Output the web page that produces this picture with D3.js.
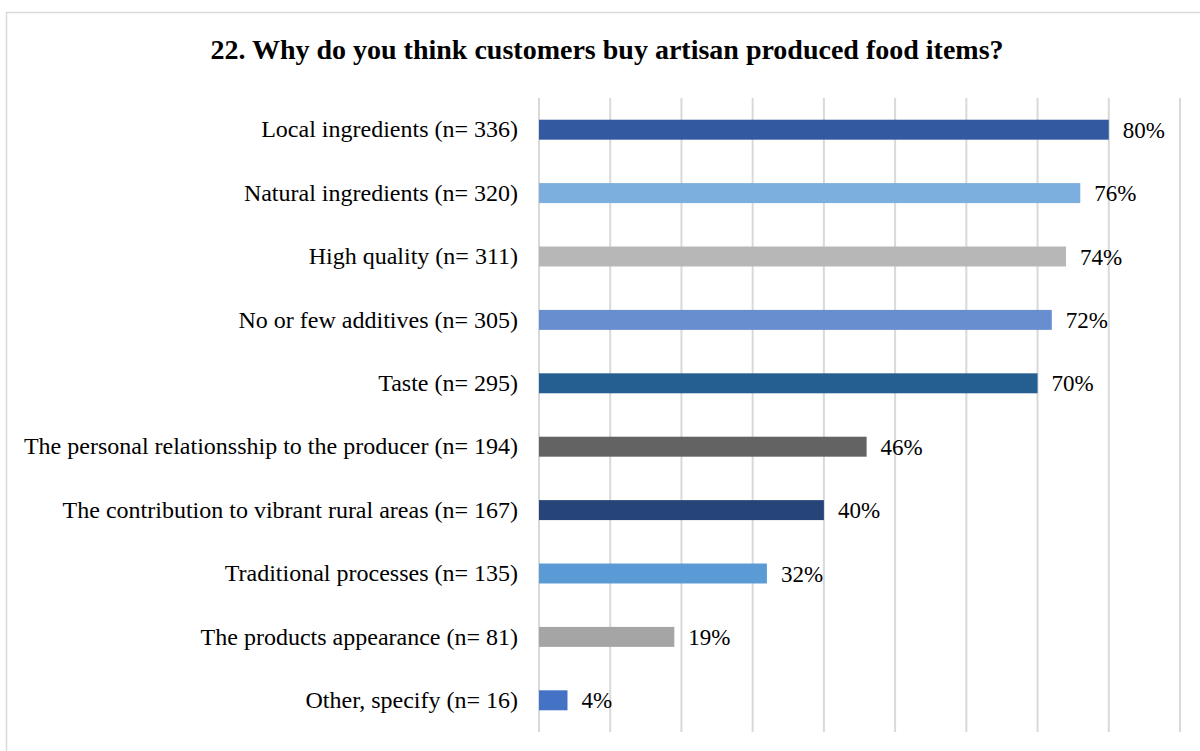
<!DOCTYPE html>
<html>
<head>
<meta charset="utf-8">
<script src="https://cdn.jsdelivr.net/npm/d3@7"></script>
<style>
  html, body { margin: 0; padding: 0; background: #fff; }
  svg { display: block; }
</style>
</head>
<body>
<script>
const categories = [
  "Local ingredients (n= 336)",
  "Natural ingredients (n= 320)",
  "High quality (n= 311)",
  "No or few additives (n= 305)",
  "Taste (n= 295)",
  "The personal relationsship to the producer (n= 194)",
  "The contribution to vibrant rural areas (n= 167)",
  "Traditional processes (n= 135)",
  "The products appearance (n= 81)",
  "Other, specify (n= 16)"
];
const values = [80, 76, 74, 72, 70, 46, 40, 32, 19, 4];
const barColors = ["#335AA1", "#7CAFDD", "#B7B7B7", "#698ED0", "#255E91",
                   "#636363", "#264478", "#5B9BD5", "#A5A5A5", "#4472C4"];
const gridTicks = [0, 10, 20, 30, 40, 50, 60, 70, 80, 90];
const title = "22. Why do you think customers buy artisan produced food items?";

const W = 1200, H = 751;
const svg = d3.select("body").append("svg").attr("width", W).attr("height", H);

// chart border
svg.append("rect").attr("x", 6.5).attr("y", 12.5).attr("width", 1260).attr("height", 800)
  .attr("fill", "#fff").attr("stroke", "#d9d9d9").attr("stroke-width", 1.5);

svg.append("text").attr("x", 607).attr("y", 59).attr("text-anchor", "middle")
  .attr("font-family", "Liberation Serif, Times New Roman, serif")
  .attr("font-weight", "bold").attr("font-size", 28).attr("fill", "#000")
  .text(title);

const x = d3.scaleLinear().domain([0, 90]).range([539, 1180]);
const y = d3.scaleBand().domain(categories).range([98, 732]).paddingInner(0.685).paddingOuter(0.3425);

// gridlines
svg.append("g").selectAll("line").data(gridTicks).join("line")
  .attr("x1", d => x(d)).attr("x2", d => x(d))
  .attr("y1", 98).attr("y2", 732)
  .attr("stroke", "#d9d9d9").attr("stroke-width", 2);

// bars
svg.append("g").selectAll("rect").data(values).join("rect")
  .attr("x", x(0))
  .attr("y", (d, i) => y(categories[i]))
  .attr("width", d => x(d) - x(0))
  .attr("height", y.bandwidth())
  .attr("fill", (d, i) => barColors[i]);

// value labels
svg.append("g").selectAll("text").data(values).join("text")
  .attr("x", d => x(d) + 14)
  .attr("y", (d, i) => y(categories[i]) + y.bandwidth() / 2)
  .attr("dy", "0.35em")
  .attr("font-family", "Liberation Serif, Times New Roman, serif")
  .attr("font-size", 23).attr("fill", "#000")
  .text(d => d + "%");

// category axis labels
const yAxis = d3.axisLeft(y).tickSize(0).tickPadding(21);
const ax = svg.append("g").attr("transform", `translate(${x(0)},0)`).call(yAxis);
ax.select(".domain").remove();
ax.selectAll("text")
  .attr("font-family", "Liberation Serif, Times New Roman, serif")
  .attr("font-size", 24).attr("fill", "#000");
</script>
</body>
</html>
